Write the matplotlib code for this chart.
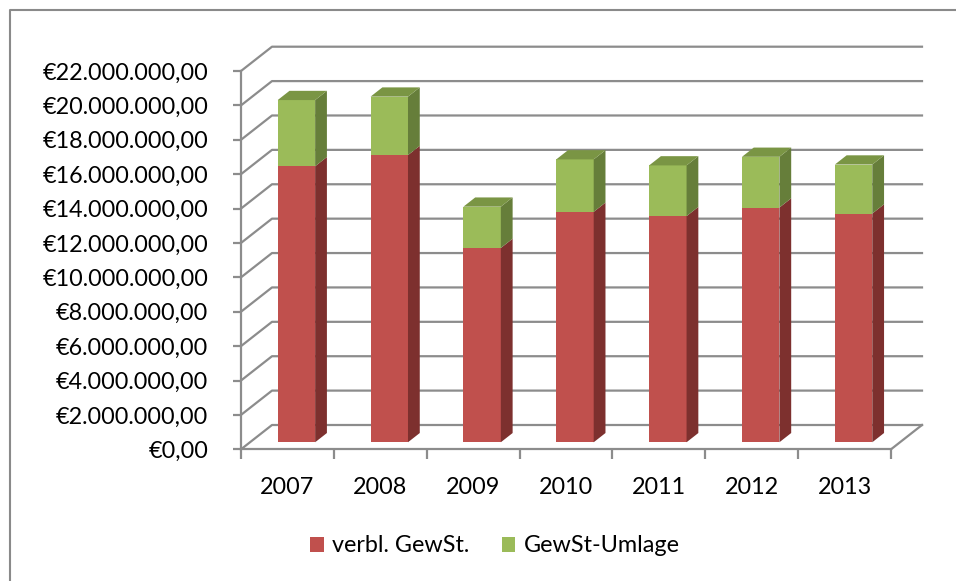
import matplotlib
matplotlib.use("Agg")
import matplotlib.pyplot as plt
from matplotlib.patches import Polygon, Patch
from matplotlib.lines import Line2D
from matplotlib.ticker import FuncFormatter, MultipleLocator, FixedLocator

plt.rcParams['font.family'] = ['Lato', 'DejaVu Sans']

years = ['2007', '2008', '2009', '2010', '2011', '2012', '2013']
verbl_gewst = [16.05e6, 16.70e6, 11.30e6, 13.40e6, 13.15e6, 13.65e6, 13.30e6]
gewst_umlage = [3.85e6, 3.40e6, 2.40e6, 3.05e6, 2.95e6, 2.95e6, 2.85e6]
series_names = ['verbl. GewSt.', 'GewSt-Umlage']

W, H = 956, 581
FS = 16.8
fig = plt.figure(figsize=(W / 100, H / 100), dpi=100)
fig.patch.set_facecolor('white')

# front plane of the chart in pixels
x0_px, x1_px = 241, 891
y0_px, y1_px = 449.3, 71
ax = fig.add_axes([x0_px / W, (H - y0_px) / H, (x1_px - x0_px) / W, (y0_px - y1_px) / H])
ax.set_xlim(-0.5, len(years) - 0.5)
ax.set_ylim(0, 22e6)
ax.patch.set_alpha(0)

grid_c = '#8c8c8c'
for s in ['top', 'right']:
    ax.spines[s].set_visible(False)
for s in ['left', 'bottom']:
    ax.spines[s].set_color(grid_c)
    ax.spines[s].set_linewidth(1.6)


def fmt(v, pos=None):
    s = f"€{v:,.2f}"
    return s.replace(',', 'X').replace('.', ',').replace('X', '.')


ax.yaxis.set_major_locator(MultipleLocator(2e6))
ax.yaxis.set_major_formatter(FuncFormatter(fmt))
ax.tick_params(axis='y', direction='out', length=6, width=1.6, color=grid_c,
               labelsize=FS, pad=17.5, labelcolor='black')
ax.xaxis.set_major_locator(FixedLocator(range(len(years))))
ax.set_xticklabels(years)
ax.xaxis.set_minor_locator(FixedLocator([i - 0.5 for i in range(len(years) + 1)]))
ax.tick_params(axis='x', which='major', length=0, labelsize=FS, pad=20, labelcolor='black')
ax.tick_params(axis='x', which='minor', direction='out', length=7, width=1.6, color=grid_c)

# oblique depth offsets (data units)
cat_px = (x1_px - x0_px) / len(years)
val_px = (y0_px - y1_px) / 22e6
DX = 31 / cat_px
DY = 24.3 / val_px

xl, xr = -0.5, len(years) - 0.5
ticks = [i * 2e6 for i in range(12)]
for v in ticks:
    ax.add_line(Line2D([xl, xl + DX, xr + DX], [v, v + DY, v + DY], color=grid_c,
                       lw=1.6, clip_on=False, zorder=1))
# floor right edge
ax.add_line(Line2D([xr, xr + DX], [0, DY], color=grid_c, lw=1.6, clip_on=False, zorder=1))

# bars
w = 0.403
d0, d1 = 0.29, 0.67
colors = {
    0: ('#c0504d', '#7d302e', '#9a3e3c'),
    1: ('#9bbb59', '#667e3a', '#7a9544'),
}


def draw_segment(i, v0, v1, cols, top):
    front, side, topc = cols
    a, b = i - w / 2, i + w / 2
    fx, fy = d0 * DX, d0 * DY
    bx, by = d1 * DX, d1 * DY
    z = 5 + i
    ax.add_patch(Polygon([(a + fx, v0 + fy), (b + fx, v0 + fy), (b + fx, v1 + fy), (a + fx, v1 + fy)],
                         closed=True, facecolor=front, edgecolor='none', clip_on=False, zorder=z))
    ax.add_patch(Polygon([(b + fx, v0 + fy), (b + bx, v0 + by), (b + bx, v1 + by), (b + fx, v1 + fy)],
                         closed=True, facecolor=side, edgecolor='none', clip_on=False, zorder=z))
    if top:
        ax.add_patch(Polygon([(a + fx, v1 + fy), (b + fx, v1 + fy), (b + bx, v1 + by), (a + bx, v1 + by)],
                             closed=True, facecolor=topc, edgecolor='none', clip_on=False, zorder=z))


for i in range(len(years)):
    r = verbl_gewst[i]
    g = gewst_umlage[i]
    draw_segment(i, 0, r, colors[0], False)
    draw_segment(i, r, r + g, colors[1], True)

# legend
handles = [Patch(facecolor=colors[0][0], edgecolor='none', label=series_names[0]),
           Patch(facecolor=colors[1][0], edgecolor='none', label=series_names[1])]
fig.legend(handles=handles, loc='center', bbox_to_anchor=(495 / W, 1 - 546 / H), ncol=2,
           frameon=False, fontsize=FS, handlelength=0.58, handleheight=0.58,
           handletextpad=0.35, columnspacing=1.4)

# outer chart border (partially cropped)
fig.add_artist(Line2D([10 / W, 10 / W, 1.0], [0, 1 - 10 / H, 1 - 10 / H], transform=fig.transFigure,
                      color='#8a8a8a', lw=1.5))

fig.savefig('out.png', dpi=100, facecolor='white')
